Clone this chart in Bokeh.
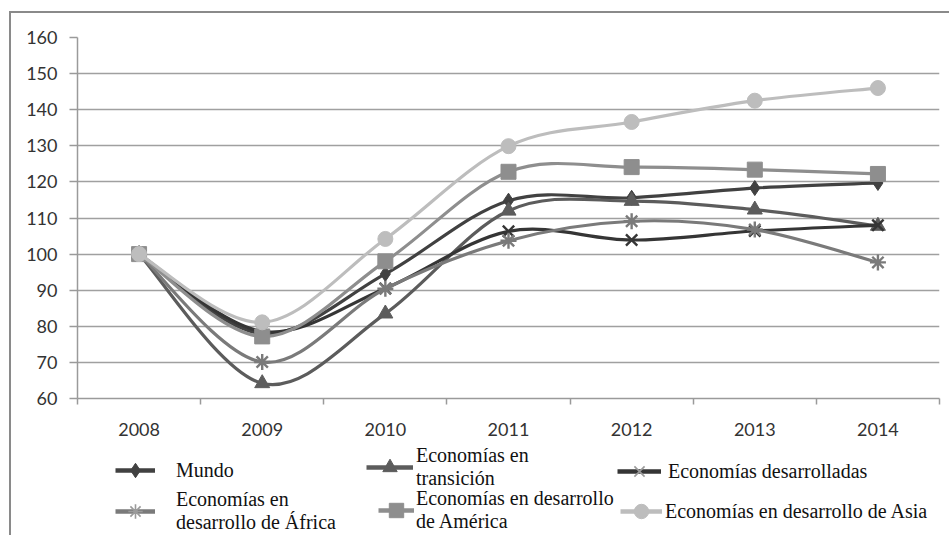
import numpy as np
from bokeh.plotting import figure
from bokeh.models import Range1d, FixedTicker, Legend, LegendItem
from bokeh.embed import file_html
from bokeh.resources import INLINE

years = ["2008", "2009", "2010", "2011", "2012", "2013", "2014"]
mundo = [100, 78, 94.5, 114.8, 115.6, 118.3, 119.7]
transicion = [100, 64.2, 83.5, 112, 114.7, 112.3, 107.8]
desarrolladas = [100, 78.6, 90.5, 106.3, 103.9, 106.4, 108]
africa = [100, 70.1, 90.4, 103.7, 109.1, 106.8, 97.7]
america = [100, 77.2, 98, 122.8, 124.1, 123.4, 122.2]
asia = [100, 81.1, 104.2, 129.9, 136.6, 142.5, 146]

names = ["Mundo", "Economías en\ntransición", "Economías desarrolladas",
         "Economías en\ndesarrollo de África", "Economías en desarrollo\nde América",
         "Economías en desarrollo de Asia"]
series = [mundo, transicion, desarrolladas, africa, america, asia]
colors = ["#414141", "#5c5c5c", "#353535", "#7a7a7a", "#8e8e8e", "#bdbdbd"]
markers = ["diamond", "triangle", "x", "asterisk", "square", "circle"]
msizes = [15, 15, 16, 16, 15, 15]

BORDER = "2px solid #8a8a8a"
p = figure(width=940, height=429, output_backend="svg", toolbar_location=None,
           x_range=Range1d(-0.5, 6.5), y_range=Range1d(60, 160),
           min_border_left=66, min_border_right=12, min_border_top=24, min_border_bottom=44)
p.styles = {"border-left": BORDER, "border-top": BORDER,
            "margin-top": "11px", "margin-left": "9px"}
p.outline_line_color = None

xs = np.arange(len(years), dtype=float)
p.xaxis.ticker = FixedTicker(ticks=list(xs), minor_ticks=list(np.arange(-0.5, 7.0, 1.0)))
p.xaxis.major_label_overrides = {i: y for i, y in enumerate(years)}
p.xaxis.major_tick_out = 0
p.xaxis.major_tick_in = 0
p.xaxis.minor_tick_out = 6
p.xaxis.minor_tick_in = 0
p.xaxis.minor_tick_line_color = "#9a9a9a"
p.xaxis.minor_tick_line_width = 1.5
p.xaxis.major_label_standoff = 18
p.xgrid.visible = False

p.yaxis.ticker = FixedTicker(ticks=list(range(60, 161, 10)))
p.yaxis.major_tick_out = 8
p.yaxis.major_tick_in = 0
p.yaxis.minor_tick_line_color = None
p.yaxis.major_tick_line_color = "#9a9a9a"
p.yaxis.major_tick_line_width = 1.5
p.yaxis.major_label_standoff = 12
p.ygrid.grid_line_color = "#a0a0a0"
p.ygrid.grid_line_width = 1.5
p.ygrid.ticker = FixedTicker(ticks=list(range(60, 161, 10)))

for ax in (p.xaxis[0], p.yaxis[0]):
    ax.axis_line_color = "#9a9a9a"
    ax.axis_line_width = 1.5
    ax.major_label_text_font = "Lato"
    ax.major_label_text_font_size = "18px"
    ax.major_label_text_color = "#333333"


def bezier_parts(ys):
    P = np.column_stack([xs, np.asarray(ys, dtype=float)])
    Pm = np.vstack([P[0], P, P[-1]])
    out = {k: [] for k in ("x0", "y0", "x1", "y1", "cx0", "cy0", "cx1", "cy1")}
    for i in range(len(ys) - 1):
        a, b, c, d = Pm[i], Pm[i + 1], Pm[i + 2], Pm[i + 3]
        c1 = b + (c - a) / 6.0
        c2 = c - (d - b) / 6.0
        out["x0"].append(b[0]); out["y0"].append(b[1])
        out["x1"].append(c[0]); out["y1"].append(c[1])
        out["cx0"].append(c1[0]); out["cy0"].append(c1[1])
        out["cx1"].append(c2[0]); out["cy1"].append(c2[1])
    return out


for ys, col, mk, ms in zip(series, colors, markers, msizes):
    p.bezier(source=bezier_parts(ys), x0="x0", y0="y0", x1="x1", y1="y1",
             cx0="cx0", cy0="cy0", cx1="cx1", cy1="cy1",
             line_color=col, line_width=3.2)
    lw = 2.4 if mk in ("x", "asterisk") else 1
    p.scatter(xs, ys, marker=mk, size=ms, fill_color=col, line_color=col, line_width=lw)

# ---- legend panel: a second root, so legends are not clipped by the plot frame.
# Its ranges lie away from the data, so its series renderers only feed the legend.
LH = 95
q = figure(width=940, height=LH, output_backend="svg", toolbar_location=None,
           x_range=Range1d(100, 101), y_range=Range1d(1000, 1001),
           min_border_left=0, min_border_right=0, min_border_top=0, min_border_bottom=0)
q.styles = {"border-left": BORDER, "margin-left": "9px"}
q.axis.visible = False
q.grid.visible = False
q.outline_line_color = None

# (glyph left x, glyph width, label left x, glyph centre y), page px
leg_pos = [
    (115, 40, 176, 472),
    (366, 47, 416, 470),
    (617, 44, 668, 473),
    (115, 40, 176, 514),
    (378, 36, 416, 513),
    (620, 42, 665, 513),
]
ox, oy = 11, 442
for name, ys, col, mk, ms, (gx, gw, lx, cy) in zip(names, series, colors, markers, msizes, leg_pos):
    ln = q.line(x=xs, y=ys, line_color=col, line_width=4.5)
    lw = 1.6 if mk in ("x", "asterisk") else 1
    mcol = "#9a9a9a" if mk in ("x", "asterisk") else col
    sc = q.scatter(x=xs, y=ys, marker=mk, fill_color=mcol, line_color=mcol, line_width=lw)
    gh = 36
    nlines = name.count("\n") + 1
    h = max(gh, 22 * nlines)
    leg = Legend(items=[LegendItem(label=name, renderers=[ln, sc], index=0)],
                 location=(gx - ox, LH - (cy - oy + h / 2)),
                 glyph_width=gw, glyph_height=gh, label_standoff=lx - gx - gw,
                 padding=0, margin=0, spacing=0,
                 border_line_alpha=0, background_fill_alpha=0,
                 label_text_font="Liberation Serif", label_text_font_size="20px",
                 label_text_line_height=1.05, label_text_color="#111111",
                 label_height=20)
    q.add_layout(leg)

open("out.html", "w").write(file_html([p, q], INLINE))
